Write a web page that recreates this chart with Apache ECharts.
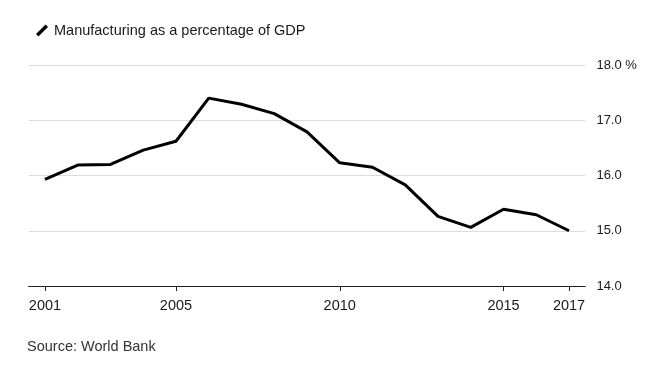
<!DOCTYPE html>
<html>
<head>
<meta charset="utf-8">
<script src="https://cdn.jsdelivr.net/npm/echarts@6/dist/echarts.min.js"></script>
<style>html,body{margin:0;padding:0;background:#fff;}#c{width:668px;height:380px;}</style>
</head>
<body>
<div id="c"></div>
<script>
const years = ['2001','2002','2003','2004','2005','2006','2007','2008','2009','2010','2011','2012','2013','2014','2015','2016','2017'];
const manufacturing = [15.93, 16.19, 16.20, 16.46, 16.62, 17.40, 17.29, 17.12, 16.79, 16.23, 16.15, 15.83, 15.26, 15.06, 15.39, 15.29, 15.00];
const shownYears = ['2001','2005','2010','2015','2017'];
const seriesName = 'Manufacturing as a percentage of GDP';
const sourceText = 'Source: World Bank';

const font = 'Liberation Sans, Arial, Helvetica, sans-serif';
const chart = echarts.init(document.getElementById('c'), null, {renderer: 'canvas'});
chart.setOption({
  backgroundColor: '#fff',
  animation: false,
  textStyle: {fontFamily: font},
  title: {
    text: sourceText,
    left: 27, top: 339, padding: 0,
    textStyle: {fontSize: 14.5, fontWeight: 'normal', color: '#333', fontFamily: font}
  },
  legend: {
    data: [seriesName],
    left: 36, top: 23, padding: 0,
    icon: 'path://M0,10 L10,0 L12.5,2.5 L2.5,12.5 Z',
    itemWidth: 12, itemHeight: 12,
    textStyle: {fontSize: 14.5, color: '#1a1a1a', fontFamily: font, padding: [0,0,0,1]}
  },
  grid: {left: 28.6, right: 82.6, top: 65, bottom: 94, containLabel: false},
  xAxis: {
    type: 'category',
    data: years,
    boundaryGap: true,
    axisLine: {show: true, lineStyle: {color: '#222', width: 1}},
    axisTick: {
      show: true, alignWithLabel: true, length: 5,
      interval: (i, v) => shownYears.includes(v),
      lineStyle: {color: '#222'}
    },
    axisLabel: {
      interval: (i, v) => shownYears.includes(v),
      fontSize: 14.5, color: '#1a1a1a', margin: 12, fontFamily: font
    },
    splitLine: {show: false}
  },
  yAxis: {
    type: 'value',
    position: 'right',
    min: 14, max: 18, interval: 1,
    axisLine: {show: false},
    axisTick: {show: false},
    axisLabel: {
      fontSize: 13, color: '#1a1a1a', margin: 11, fontFamily: font,
      formatter: v => v === 18 ? '18.0 %' : v.toFixed(1)
    },
    splitLine: {show: true, lineStyle: {color: '#dcdcdc', width: 1}}
  },
  series: [{
    name: seriesName,
    type: 'line',
    data: manufacturing,
    showSymbol: false,
    symbol: 'none',
    lineStyle: {color: '#000', width: 3},
    itemStyle: {color: '#000'},
    z: 3
  }]
});
</script>
</body>
</html>
